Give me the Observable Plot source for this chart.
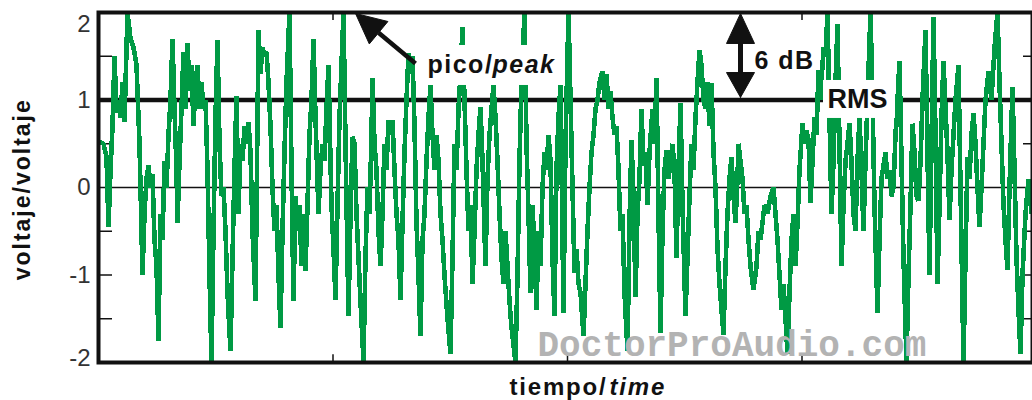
<!DOCTYPE html>
<html><head><meta charset="utf-8">
<script src="https://cdn.jsdelivr.net/npm/d3@7"></script>
<script src="https://cdn.jsdelivr.net/npm/@observablehq/plot@0.6"></script>
<style>html,body{margin:0;padding:0;background:#fff;} svg{display:block}</style>
</head><body><div id="chart"></div>
<script>
// time in samples, voltage in volts
const time = [1,5,8,10,12,14,16,18,20,22,24,26,29,32,35,38,41,44,46,48,50,52,54,56,58,60,62,64,66,68,70,72,74,76,78,79,81,83,85,87,89,91,93,95,97,99,101,103,105,107,109,111,113,115,117,119,121,123,125,127,129,132,134,136,138,140,142,144,146,148,150,152,154,157,160,162,164,166,168,170,172,174,176,178,180,182,184,186,188,191,193,195,197,199,201,203,205,207,209,211,213,215,217,220,222,224,226,228,230,232,233,235,237,239,241,243,245,247,250,252,254,256,258,260,262,265,267,269,271,273,274,276,278,280,282,284,286,288,290,292,294,296,298,300,302,304,306,308,310,312,314,316,318,320,322,324,326,328,330,332,334,336,338,340,342,344,346,349,352,354,356,358,360,362,364,366,368,370,372,374,376,378,380,382,384,387,389,391,393,395,397,399,401,403,405,407,409,411,413,415,417,419,421,423,426,428,430,432,434,436,438,440,442,444,446,448,450,452,454,456,458,460,462,465,467,470,472,474,476,478,480,482,485,487,489,491,493,495,497,499,501,504,506,508,510,512,514,516,518,520,522,524,526,529,531,533,535,537,539,541,543,545,547,549,551,554,556,558,560,562,564,566,568,570,572,574,576,578,580,582,584,587,589,591,593,595,597,599,601,603,605,607,609,611,613,615,617,619,621,623,625,627,629,631,633,635,637,639,640,642,644,646,648,650,652,655,658,660,662,664,666,669,672,675,677,679,681,683,685,687,689,691,693,695,697,699,701,704,706,708,710,712,714,716,718,720,722,725,727,729,731,733,735,737,739,741,743,745,747,749,751,753,755,757,759,761,763,765,767,769,772,774,776,779,781,783,785,787,789,791,793,795,797,799,801,803,805,808,810,812,814,816,818,820,822,824,827,829,831,833,835,837,839,841,843,845,847,849,851,853,855,857,860,862,865,867,869,871,873,875,877,879,881,883,885,887,890,893,896,899,901,903,905,907,909,911,914,916,918,920,922,924,927,930,933,936,938];
const voltage = [0.52,0.5,0.35,-0.45,0.2,0.7,1.5,0.85,1.0,0.8,1.2,0.75,2.0,1.7,1.6,1.4,0.5,-1.0,-0.3,0.1,0.25,0.0,0.15,-0.6,-0.9,-1.75,-0.3,-0.6,0.3,0.0,0.6,1.0,1.7,0.9,0.2,-0.4,0.3,0.9,1.55,0.9,1.65,1.1,1.4,0.7,1.2,1.4,0.9,1.2,0.9,1.0,0.2,-1.0,-2.0,-0.5,0.8,1.68,0.5,-0.1,0.0,-0.5,-1.2,-1.87,-0.8,0.2,1.05,-0.3,0.5,0.3,0.7,0.5,0.75,0.4,-0.5,-1.3,1.8,1.3,1.6,1.5,1.55,1.2,0.7,0.0,-0.5,-0.2,-1.0,-1.6,-0.5,0.4,1.2,2.0,0.2,-1.3,-0.1,-0.5,-0.2,-0.9,-0.3,-0.95,-0.2,0.6,1.0,1.7,0.8,-0.3,0.2,0.5,0.3,0.9,1.4,0.3,-0.2,-0.7,-1.28,-0.2,0.8,1.4,2.0,0.5,-1.47,-0.3,0.58,0.5,-0.3,-0.8,-1.3,-2.0,-0.8,0.0,-0.3,0.6,1.25,0.5,0.2,-0.5,-0.9,-0.3,0.5,0.2,0.77,0.6,0.77,0.2,-0.3,-0.6,-1.28,-0.4,0.4,1.0,1.53,1.3,1.5,0.7,-0.4,-1.0,-1.7,-0.6,-0.3,0.3,0.8,1.17,0.6,0.2,0.6,0.3,-0.3,-0.6,-1.0,-1.5,-1.9,-0.8,0.5,0.2,0.9,1.3,1.83,1.0,0.2,-0.5,-0.2,-1.1,-0.5,0.2,0.6,0.92,0.3,-0.9,0.1,0.6,0.9,1.17,0.8,0.3,-0.3,-0.8,-1.1,-0.5,-0.9,-1.3,-1.6,-1.8,-2.0,-1.0,0.3,1.2,2.0,0.5,-0.3,-1.2,-0.2,-0.7,-1.4,-0.5,-0.9,0.0,0.4,0.2,0.6,0.3,-0.8,-1.47,0.2,0.8,1.17,-1.43,0.5,2.0,1.0,0.0,-0.98,-0.7,-1.1,-1.2,-1.7,-1.1,-0.5,0.0,0.4,0.6,0.9,1.0,1.2,1.33,1.0,1.3,0.9,1.1,0.8,0.6,0.7,0.2,-0.5,-0.3,-1.2,-1.87,-0.4,0.54,-0.1,-1.25,-0.3,0.1,0.9,0.25,0.4,-0.2,0.4,0.9,0.5,1.25,-0.3,-1.66,-0.5,0.2,0.43,0.1,0.3,0.5,0.2,-0.8,0.2,0.96,-0.2,-1.47,-0.8,-0.1,0.5,0.2,0.8,1.2,1.57,1.4,1.0,0.9,1.2,0.7,1.19,0.4,0.0,-0.7,-1.1,-1.4,-1.68,-0.9,-0.3,0.1,0.35,-0.1,-0.4,0.1,0.5,0.3,0.1,-0.3,-0.2,-0.6,-0.9,-1.17,-0.9,-0.5,-0.6,-0.4,-0.2,-0.3,-0.1,0.0,-0.3,-0.6,-1.0,-1.4,-1.1,-1.5,-1.9,-1.2,-0.6,-0.3,-0.9,-0.4,0.2,0.73,0.5,0.65,0.55,-0.18,0.3,0.8,0.6,1.34,1.0,1.6,1.5,2.0,0.8,-0.3,0.3,1.2,1.87,0.5,-0.9,-0.2,0.3,0.5,0.73,0.3,-0.3,-0.5,0.3,0.8,0.2,-0.5,0.3,1.0,2.0,1.0,-0.2,-1.43,-0.6,0.1,0.25,0.4,0.1,0.2,-0.1,0.0,0.6,1.0,1.45,0.3,-0.8,-2.0,-1.0,-0.2,0.73,0.4,-0.1,-0.15,0.3,1.0,1.8,0.4,-1.0,0.5,1.95,0.6,-1.1,-0.2,0.8,1.45,0.9,0.4,-0.37,0.2,0.6,1.0,1.4,0.0,-2.0,-0.8,0.35,0.1,0.6,0.85,0.5,0.0,-0.45,0.0,0.5,1.0,1.33,1.0,1.6,2.0,1.2,0.5,-0.2,-0.6,-0.94,0.0,1.15,0.2,-0.8,-1.4,-1.9,-1.0,-0.3,0.1,-0.3,0.4,0.2];

const peakLevel = 2;
const rmsLevel = 1;
const yTickLabels = [1, 0, -1];
const yMinorTicks = [-1.5, -1, -0.5, 0.5, 1.5];
const xTicks = [234.5, 469, 703.5];
const timeDomain = [0, 938];

const signal = time.map((t, i) => ({t, v: voltage[i]}));

const green = "#009a44";
const ink = "#111";

// annotation geometry (data units)
const peakArrowHead = [{t: 257, v: 1.989}, {t: 270.8, v: 1.641}, {t: 289.4, v: 1.897}, {t: 257, v: 1.989}];
const peakArrowShaft = [{t: 280.1, v: 1.769}, {t: 317, v: 1.417}];
const dbArrowX = 642;
const dbHeadTop = [{t: 642, v: 1.989}, {t: 628, v: 1.646}, {t: 656, v: 1.646}, {t: 642, v: 1.989}];
const dbHeadBottom = [{t: 642, v: 1.03}, {t: 628, v: 1.314}, {t: 656, v: 1.314}, {t: 642, v: 1.03}];

const bold = {fontWeight: "bold", fill: ink, lineAnchor: "bottom", text: d => d};

const chart = Plot.plot({
  width: 1032,
  height: 400,
  marginLeft: 98, marginRight: 0, marginTop: 12, marginBottom: 38,
  x: {domain: timeDomain, range: [98, 1036], axis: null},
  y: {domain: [-peakLevel, peakLevel], range: [362, 12], axis: null},
  style: {fontFamily: "'Liberation Sans', Arial, Helvetica, sans-serif", background: "#fff", color: ink},
  marks: [
    Plot.ruleY(yMinorTicks, {x1: 0, x2: 14, stroke: ink, strokeWidth: 1.5}),
    Plot.ruleY(yMinorTicks, {x1: 925, x2: 938, stroke: ink, strokeWidth: 1.5}),
    Plot.ruleX(xTicks, {y1: peakLevel, y2: peakLevel - 0.09, stroke: ink, strokeWidth: 1.5}),
    Plot.ruleX(xTicks, {y1: -peakLevel, y2: -peakLevel + 0.09, stroke: ink, strokeWidth: 1.5}),
    Plot.ruleY([0], {stroke: ink, strokeWidth: 1.3}),
    Plot.ruleY([rmsLevel], {stroke: ink, strokeWidth: 4.5}),
    Plot.line(signal, {x: "t", y: "v", stroke: green, strokeWidth: 4.6, strokeLinejoin: "bevel", strokeLinecap: "butt", shapeRendering: "crispEdges", clip: true}),
    Plot.frame({stroke: ink, strokeWidth: 4}),
    // y tick labels
    Plot.text(yTickLabels, {x: 0, y: d => d, text: d => String(d), textAnchor: "end", dx: -8, fontSize: 24, fill: "#333"}),
    Plot.text([peakLevel], {x: 0, y: d => d, text: d => String(d), textAnchor: "end", dx: -8, dy: 12, fontSize: 24, fill: "#333"}),
    Plot.text([-peakLevel], {x: 0, y: d => d, text: d => String(d), textAnchor: "end", dx: -8, dy: -4.5, fontSize: 24, fill: "#333"}),
    // label boxes
    Plot.rect([0], {x1: 322, x2: 464, y1: 1.166, y2: 1.623, fill: "#fff"}),
    Plot.rect([0], {x1: 725, x2: 797, y1: 0.789, y2: 1.223, fill: "#fff"}),
    // peak annotation
    Plot.line(peakArrowShaft, {x: "t", y: "v", stroke: ink, strokeWidth: 4.5, strokeLinecap: "butt"}),
    Plot.line(peakArrowHead, {x: "t", y: "v", fill: ink, stroke: ink, strokeWidth: 1}),
    Plot.text(["pico/"], {...bold, x: 329, y: 1.314, textAnchor: "start", fontSize: 25}),
    Plot.text(["peak"], {...bold, x: 457, y: 1.314, textAnchor: "end", fontSize: 25, fontStyle: "italic"}),
    // 6 dB annotation
    Plot.ruleX([dbArrowX], {y1: 1.7, y2: 1.25, stroke: ink, strokeWidth: 5}),
    Plot.line(dbHeadTop, {x: "t", y: "v", fill: ink, stroke: ink, strokeWidth: 1}),
    Plot.line(dbHeadBottom, {x: "t", y: "v", fill: ink, stroke: ink, strokeWidth: 1}),
    Plot.text(["6 dB"], {...bold, x: 656, y: 1.36, textAnchor: "start", fontSize: 25}),
    Plot.text(["RMS"], {...bold, x: 729, y: 0.903, textAnchor: "start", fontSize: 27}),
    // watermark
    Plot.text(["DoctorProAudio.com"], {x: 439, y: -1.928, text: d => d, textAnchor: "start", lineAnchor: "bottom", fontFamily: "'Liberation Mono', 'Courier New', monospace", fontWeight: "bold", fontSize: 36, fill: "#b3b3b3"}),
    // axis titles
    Plot.text(["voltaje/voltaje"], {...bold, x: -69, y: -0.02, rotate: -90, textAnchor: "middle", fontSize: 23}),
    Plot.text(["tiempo/"], {...bold, x: 411, y: -2.366, textAnchor: "start", fontSize: 24}),
    Plot.text(["time"], {...bold, x: 511, y: -2.366, textAnchor: "start", fontSize: 24, fontStyle: "italic"})
  ]
});

const spacing = {"pico/": 1.5, "peak": 1.5, "6 dB": 1.5, "tiempo/": 1.8, "time": 1.8, "voltaje/voltaje": 2};
d3.select(chart).selectAll("text").each(function () {
  const s = spacing[this.textContent];
  if (s) this.setAttribute("letter-spacing", s);
});

document.getElementById("chart").appendChild(chart);
</script>
</body></html>
